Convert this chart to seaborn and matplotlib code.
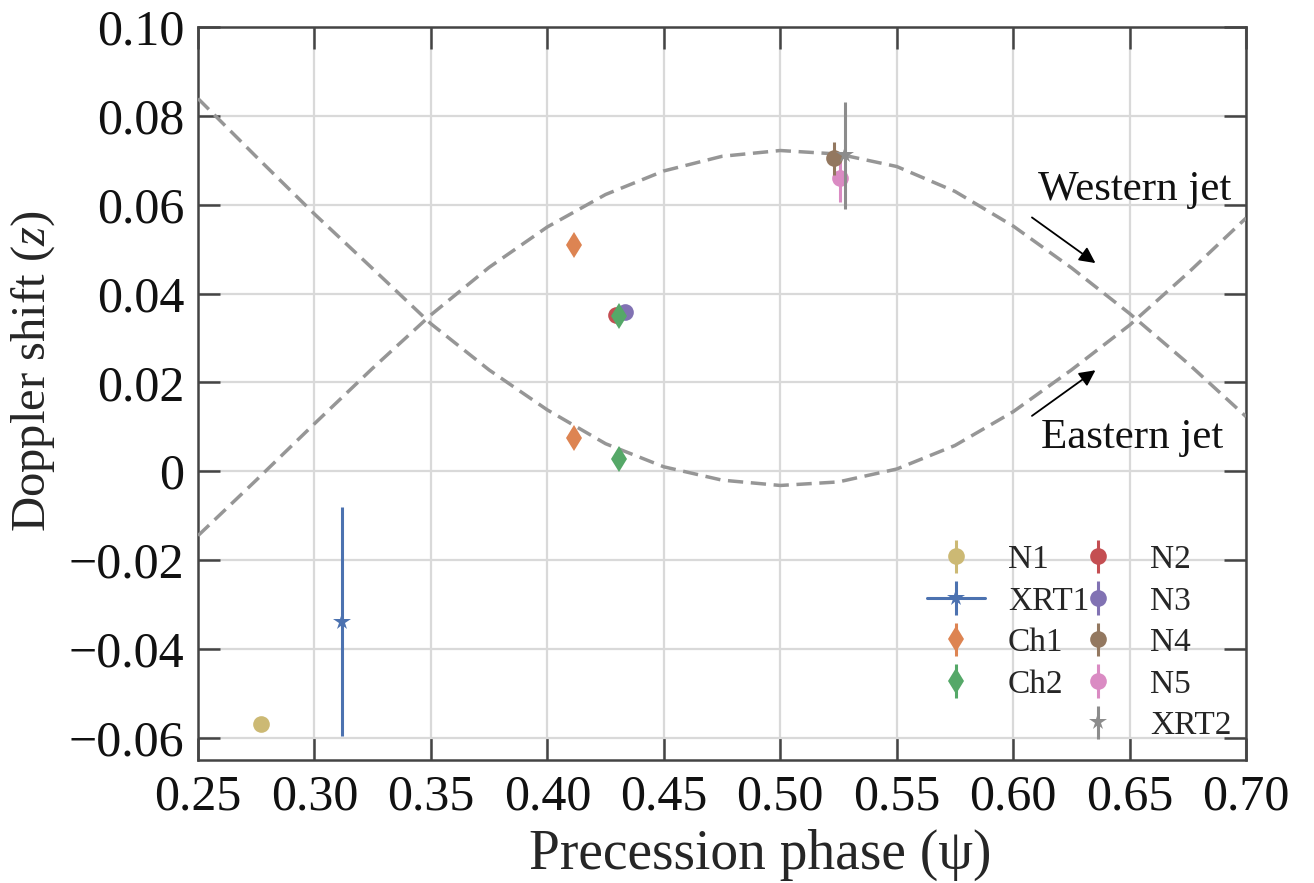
import matplotlib
matplotlib.use("Agg")
import matplotlib.pyplot as plt
import seaborn as sns
import pandas as pd
from matplotlib.lines import Line2D

# ---------------- data ----------------
phase_grid = [0.25, 0.275, 0.30, 0.325, 0.35, 0.375, 0.40, 0.425, 0.45, 0.475,
              0.50, 0.525, 0.55, 0.575, 0.60, 0.625, 0.65, 0.675, 0.70]
western_z = [-0.0145, -0.0020, 0.0107, 0.0232, 0.0352, 0.0459, 0.0550, 0.0623, 0.0676, 0.0709,
             0.0722, 0.0714, 0.0686, 0.0630, 0.0552, 0.0458, 0.0355, 0.0243, 0.0123]
eastern_z = [0.0839, 0.0708, 0.0579, 0.0456, 0.0332, 0.0228, 0.0138, 0.0062, 0.0010, -0.0020,
             -0.0032, -0.0024, 0.0005, 0.0058, 0.0134, 0.0228, 0.0329, 0.0446, 0.0570]

obs_labels = ["N1", "XRT1", "Ch1", "Ch2", "N2", "N3", "N4", "N5", "XRT2"]
obs_phase = [[0.277], [0.312], [0.4115, 0.4115], [0.4307, 0.4307], [0.4293], [0.4333],
             [0.5231], [0.5255], [0.5277]]
obs_z = [[-0.0569], [-0.0339], [0.0510, 0.0074], [0.0349, 0.0027], [0.0351], [0.0358],
         [0.0705], [0.0660], [0.0711]]
obs_zerr = [[0.0012], [0.0258], [0.0006, 0.0006], [0.0006, 0.0006], [0.0006], [0.0006],
            [0.0037], [0.0055], [0.0120]]

xticks = [0.25, 0.30, 0.35, 0.40, 0.45, 0.50, 0.55, 0.60, 0.65, 0.70]
yticks = [-0.06, -0.04, -0.02, 0.0, 0.02, 0.04, 0.06, 0.08, 0.10]

# ---------------- style ----------------
sns.set_theme(style="whitegrid")
deep = sns.color_palette("deep")
plt.rcParams["font.family"] = ["Liberation Serif", "DejaVu Serif"]
plt.rcParams["mathtext.fontset"] = "custom"
plt.rcParams["mathtext.rm"] = "Liberation Serif"
plt.rcParams["mathtext.it"] = "Liberation Serif:italic"
plt.rcParams["axes.unicode_minus"] = True

colors = {"N1": deep[8], "XRT1": deep[0], "Ch1": deep[1], "Ch2": deep[2], "N2": deep[3],
          "N3": deep[4], "N4": deep[5], "N5": deep[6], "XRT2": deep[7]}
fmts = {"N1": "o", "XRT1": "-*", "Ch1": "d", "Ch2": "d", "N2": "o", "N3": "o",
        "N4": "o", "N5": "o", "XRT2": "*"}
msizes = {"o": 12, "-*": 13, "d": 13, "*": 13}
zorders = {"N1": 5, "XRT1": 5, "Ch1": 5, "N2": 5, "N3": 6, "Ch2": 7, "N5": 5, "N4": 6, "XRT2": 7}

fig = plt.figure(figsize=(13.14, 8.83), dpi=100)
ax = fig.add_axes([0.1507, 0.1393, 0.9483 - 0.1507, 0.9694 - 0.1393])

# model curves
curves = pd.DataFrame({
    "phase": phase_grid * 2,
    "z": western_z + eastern_z,
    "jet": ["Western"] * len(phase_grid) + ["Eastern"] * len(phase_grid),
})
sns.lineplot(data=curves, x="phase", y="z", units="jet", estimator=None, sort=False,
             color="#969696", linewidth=2.5, ax=ax, zorder=3, legend=False)
for ln in ax.lines:
    ln.set_dashes((4.4, 2.2))

handles = {}
for lab, xs, ys, es in zip(obs_labels, obs_phase, obs_z, obs_zerr):
    f = fmts[lab]
    h = ax.errorbar(xs, ys, yerr=es, fmt=f, color=colors[lab], ms=msizes[f], mew=0,
                    elinewidth=2.2, capsize=0, lw=2.2, zorder=zorders[lab], label=lab)
    handles[lab] = h

blank = Line2D([], [], linestyle="none", marker=None)
order = [handles["N1"], handles["XRT1"], handles["Ch1"], handles["Ch2"], blank,
         handles["N2"], handles["N3"], handles["N4"], handles["N5"], handles["XRT2"]]
labels = ["N1", "XRT1", "Ch1", "Ch2", "", "N2", "N3", "N4", "N5", "XRT2"]
ax.legend(order, labels, ncol=2, loc="upper left", bbox_to_anchor=(0.6956, 0.294),
          frameon=False, fontsize=24, handlelength=1.74, handletextpad=0.69,
          columnspacing=-0.6, labelspacing=0.33, borderpad=0, borderaxespad=0)

# annotations
ax.annotate("", xy=(0.6363, 0.0465), xytext=(0.6071, 0.0575),
            arrowprops=dict(arrowstyle="-|>", color="black", lw=1.3, mutation_scale=24))
ax.annotate("", xy=(0.6363, 0.0231), xytext=(0.6071, 0.0121),
            arrowprops=dict(arrowstyle="-|>", color="black", lw=1.3, mutation_scale=24))
ax.text(0.6522, 0.0611, "Western jet", ha="center", va="baseline", fontsize=31, color="#111111")
ax.text(0.6510, 0.0052, "Eastern jet", ha="center", va="baseline", fontsize=31, color="#111111")

ax.set_xlim(0.25, 0.70)
ax.set_ylim(-0.065, 0.10)
ax.set_xticks(xticks)
ax.set_yticks(yticks)
ax.set_xticklabels([f"{t:.2f}" for t in xticks])
ax.set_yticklabels(["0" if t == 0 else f"{t:.2f}".replace("-", "\u2212") for t in yticks])
ax.set_xlabel("Precession phase (\u03c8)", fontsize=40, labelpad=6)
ax.set_ylabel(r"Doppler shift ($z$)", fontsize=35, labelpad=8)
ax.xaxis.label.set_x(0.536)
ax.yaxis.label.set_y(0.53)

ax.grid(True, color="#d9d9d9", linewidth=1.6)
ax.set_axisbelow(True)
for s in ax.spines.values():
    s.set_color("#444444")
    s.set_linewidth(1.8)
ax.tick_params(axis="both", which="major", direction="in", length=16, width=1.8,
               color="#444444", labelsize=36, labelcolor="#111111",
               top=True, right=True, bottom=True, left=True, pad=10)

fig.savefig("out.png", dpi=100)
